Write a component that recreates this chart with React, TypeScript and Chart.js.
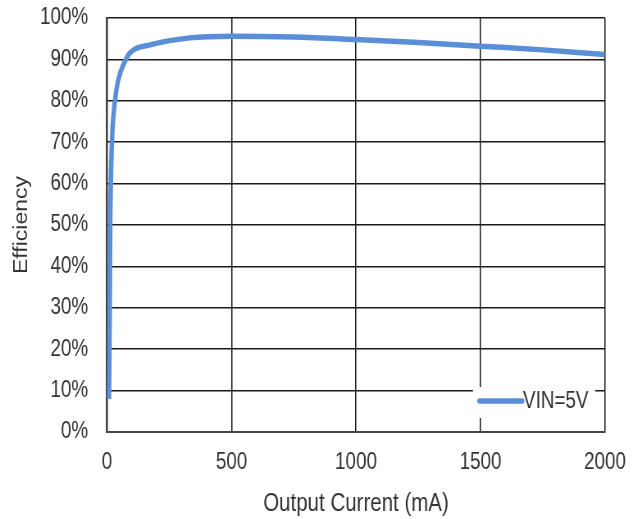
import React, { useEffect, useRef } from "react";
import { Chart, registerables } from "chart.js";

Chart.register(...registerables);

const currentMA = [8, 11, 13, 16, 22, 32, 45, 76, 92, 173, 333, 500, 750, 1000, 1250, 1500, 1750, 2000];
const efficiencyPct = [8, 30, 50, 62, 73, 80, 85, 90, 91.6, 93.5, 95.2, 95.6, 95.4, 94.8, 94.1, 93.2, 92.3, 91.2];
const seriesLabel = "VIN=5V";
const xTicks = [0, 500, 1000, 1500, 2000];
const yTicks = [0, 10, 20, 30, 40, 50, 60, 70, 80, 90, 100];
const xTitle = "Output Current (mA)";
const yTitle = "Efficiency";

// The reference figure is horizontally squeezed; draw on a wider canvas and squeeze it with CSS.
const SQUEEZE = 0.82;
const W = 643;
const H = 519;
const CW = Math.round(W / SQUEEZE);

const FONT = "'Liberation Sans', Arial, sans-serif";
const LINE_COLOR = "#5a8fd8";
const TEXT_COLOR = "#333333";

const legendPlugin = {
  id: "insideLegend",
  afterDatasetsDraw(chart: any) {
    const { ctx, chartArea } = chart;
    const ds = chart.data.datasets[0];
    const x0 = chartArea.right - 161;
    const y0 = chartArea.bottom - 45;
    const boxW = 149;
    const boxH = 31;
    ctx.save();
    ctx.fillStyle = "#ffffff";
    ctx.fillRect(x0, y0, boxW, boxH);
    ctx.strokeStyle = ds.borderColor;
    ctx.lineWidth = 5.5;
    ctx.lineCap = "round";
    ctx.beginPath();
    ctx.moveTo(x0 + 8, y0 + 14);
    ctx.lineTo(x0 + 60, y0 + 14);
    ctx.stroke();
    ctx.fillStyle = TEXT_COLOR;
    ctx.font = `23px ${FONT}`;
    ctx.textBaseline = "middle";
    ctx.textAlign = "left";
    ctx.fillText(ds.label, x0 + 61, y0 + 15);
    ctx.restore();
  },
};

export default function App() {
  const ref = useRef<HTMLCanvasElement>(null);
  useEffect(() => {
    if (!ref.current) return;
    const chart = new Chart(ref.current, {
      type: "line",
      data: {
        datasets: [
          {
            label: seriesLabel,
            data: currentMA.map((x, i) => ({ x, y: efficiencyPct[i] })),
            borderColor: LINE_COLOR,
            borderWidth: 5.5,
            pointRadius: 0,
            fill: false,
            cubicInterpolationMode: "monotone",
          },
        ],
      },
      options: {
        animation: false,
        responsive: false,
        maintainAspectRatio: false,
        layout: { padding: { top: 18, right: CW - 605 / SQUEEZE, left: 13, bottom: 0 } },
        plugins: { legend: { display: false }, tooltip: { enabled: false } },
        scales: {
          x: {
            type: "linear",
            min: 0,
            max: 2000,
            afterBuildTicks: (scale: any) => {
              scale.ticks = xTicks.map((v) => ({ value: v }));
            },
            afterFit: (scale: any) => {
              scale.height = H - 432;
              scale.paddingLeft = 0;
              scale.paddingRight = 0;
            },
            ticks: {
              color: TEXT_COLOR,
              font: { family: FONT, size: 23 },
              padding: 17,
              maxRotation: 0,
              callback: (v: any) => String(v),
            },
            grid: { color: "#1a1a1a", lineWidth: 1.5, drawTicks: false },
            border: { color: "#444444", width: 2 },
            title: {
              display: true,
              text: xTitle,
              color: TEXT_COLOR,
              font: { family: FONT, size: 25 },
              padding: { top: 2, bottom: 0 },
            },
          },
          y: {
            type: "linear",
            min: 0,
            max: 100,
            afterBuildTicks: (scale: any) => {
              scale.ticks = yTicks.map((v) => ({ value: v }));
            },
            afterFit: (scale: any) => {
              scale.width = 107 / SQUEEZE - 13;
              scale.paddingTop = 0;
              scale.paddingBottom = 0;
            },
            ticks: {
              color: TEXT_COLOR,
              font: { family: FONT, size: 23 },
              padding: 23,
              callback: (v: any) => `${v}%`,
            },
            grid: { color: "#1a1a1a", lineWidth: 1.5, drawTicks: false },
            border: { color: "#444444", width: 2 },
            title: {
              display: true,
              text: yTitle,
              color: TEXT_COLOR,
              font: { family: FONT, size: 23 },
              padding: { top: 0, bottom: 0 },
            },
          },
        },
      },
      plugins: [legendPlugin],
    } as any);
    return () => chart.destroy();
  }, []);
  return (
    <div style={{ position: "fixed", left: 0, top: 0, width: W, height: H, overflow: "hidden", background: "#fff" }}>
      <div style={{ width: CW, height: H, transform: `scaleX(${SQUEEZE})`, transformOrigin: "0 0" }}>
        <canvas ref={ref} width={CW} height={H} style={{ width: CW, height: H, display: "block" }} />
      </div>
    </div>
  );
}
